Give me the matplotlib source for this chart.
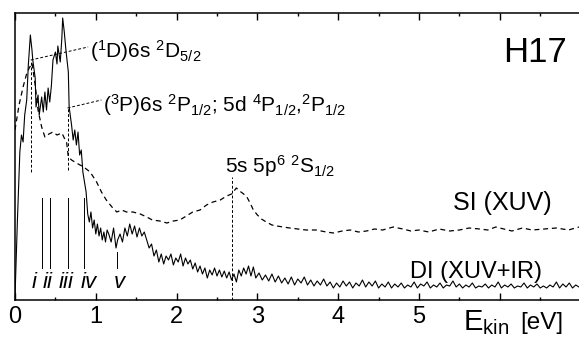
import matplotlib
matplotlib.use("Agg")
import matplotlib.pyplot as plt
from matplotlib.ticker import MultipleLocator

plt.rcParams['font.family'] = ['Liberation Sans', 'DejaVu Sans']
plt.rcParams['mathtext.fontset'] = 'custom'
plt.rcParams['mathtext.rm'] = 'Liberation Sans'
plt.rcParams['mathtext.it'] = 'Liberation Sans:italic'

# DI (XUV+IR) photoelectron spectrum (solid)
di_x = [0.00, 0.03, 0.06, 0.08, 0.10, 0.12, 0.145, 0.165, 0.19, 0.21, 0.22, 0.25, 0.26, 0.285,
        0.30, 0.33, 0.35, 0.37, 0.39, 0.41, 0.43, 0.45, 0.47, 0.50, 0.52, 0.53, 0.56, 0.58,
        0.59, 0.61, 0.63, 0.66, 0.67, 0.70, 0.72, 0.74, 0.76, 0.78, 0.80, 0.82, 0.84, 0.86,
        0.88, 0.90, 0.92, 0.94, 0.96, 0.98, 1.00, 1.02, 1.04, 1.06, 1.08, 1.10, 1.12, 1.14,
        1.16, 1.19, 1.22, 1.25, 1.27, 1.30, 1.33, 1.36, 1.39, 1.42, 1.45, 1.48, 1.51, 1.54,
        1.57, 1.60, 1.63, 1.66, 1.69, 1.72, 1.75, 1.78, 1.81, 1.84, 1.87, 1.90, 1.93, 1.96,
        1.99, 2.02, 2.05, 2.08, 2.11, 2.14, 2.17, 2.20, 2.23, 2.26, 2.29, 2.32, 2.35, 2.38,
        2.41, 2.44, 2.47, 2.50, 2.53, 2.56, 2.59, 2.62, 2.65, 2.68, 2.71, 2.74, 2.77, 2.80,
        2.83, 2.86, 2.89, 2.92, 2.95, 2.98,
        3.02, 3.06, 3.10, 3.14, 3.18, 3.22, 3.26, 3.30, 3.34, 3.38, 3.42, 3.46, 3.50, 3.54,
        3.58, 3.62, 3.66, 3.70, 3.74, 3.78, 3.82, 3.86, 3.90, 3.94, 3.98, 4.02, 4.06, 4.10,
        4.14, 4.18, 4.22, 4.26, 4.30, 4.34, 4.38, 4.42, 4.46, 4.50, 4.54, 4.58, 4.62, 4.66,
        4.70, 4.74, 4.78, 4.82, 4.86, 4.90, 4.94, 4.98, 5.02, 5.06, 5.10, 5.14, 5.18, 5.22,
        5.26, 5.30, 5.34, 5.38, 5.42, 5.46, 5.50, 5.54, 5.58, 5.62, 5.66, 5.70, 5.74, 5.78,
        5.82, 5.86, 5.90, 5.94, 5.98, 6.02, 6.06, 6.10, 6.14, 6.18, 6.22, 6.26, 6.30, 6.34,
        6.38, 6.42, 6.46, 6.50, 6.54, 6.58, 6.62, 6.66, 6.70, 6.74, 6.78, 6.82, 6.86, 6.90,
        6.94, 6.98]
di_y = [3, 80, 148, 165, 158, 185, 200, 235, 265, 250, 240, 222, 193, 205,
        185, 203, 188, 208, 190, 212, 198, 214, 240, 248, 236, 254, 238, 262,
        282, 268, 250, 228, 193, 175, 160, 170, 155, 168, 145, 150, 128, 118,
        108, 86, 78, 88, 72, 80, 66, 76, 64, 72, 60, 68, 58, 70,
        66, 58, 72, 52, 60, 66, 58, 72, 64, 76, 66, 74, 63, 72,
        64, 68, 60, 52, 56, 44, 50, 38, 46, 36, 44, 40, 46, 35,
        42, 38, 46, 34, 42, 36, 40, 31, 37, 28, 34, 26, 32, 22,
        30, 25, 32, 24, 30, 23, 29, 22, 28, 20, 26, 18, 30, 24,
        32, 26, 34, 24, 33, 22,
        27, 20, 25, 19, 26, 18, 24, 17, 22, 16, 23, 15, 21, 17,
        23, 15, 20, 14, 19, 15, 21, 14, 18, 12, 17, 13, 19, 14,
        18, 12, 17, 14, 20, 13, 18, 14, 19, 12, 16, 13, 18, 12,
        16, 13, 17, 12, 15, 13, 18, 12, 16, 14, 18, 12, 15, 13,
        17, 12, 15, 14, 19, 13, 16, 12, 15, 13, 17, 12, 14, 13,
        16, 12, 15, 13, 18, 12, 15, 13, 16, 12, 14, 13, 17, 12,
        15, 13, 16, 12, 14, 12, 15, 13, 18, 12, 16, 13, 17, 12,
        15, 13]

# SI (XUV) spectrum (dashed)
si_x = [0.00, 0.05, 0.10, 0.15, 0.21, 0.25, 0.285, 0.33, 0.37, 0.42, 0.47, 0.52, 0.58, 0.64,
        0.66, 0.70, 0.76, 0.85, 0.93, 1.01, 1.07, 1.13, 1.20, 1.26, 1.32, 1.38, 1.46, 1.55,
        1.63, 1.70, 1.79, 1.88, 1.96, 2.04, 2.12, 2.20, 2.29, 2.37, 2.45, 2.54, 2.62, 2.68,
        2.74, 2.78, 2.83, 2.87, 2.91, 2.95, 3.00, 3.05, 3.11, 3.18, 3.24, 3.32, 3.40, 3.50,
        3.60, 3.73, 3.85, 3.94, 4.05, 4.15, 4.25, 4.35, 4.45, 4.55, 4.68, 4.80, 4.90, 5.00,
        5.12, 5.25, 5.38, 5.50, 5.62, 5.75, 5.85, 5.95, 6.05, 6.15, 6.28, 6.40, 6.55, 6.70,
        6.85, 6.98]
si_y = [170, 195, 213, 228, 237, 215, 190, 173, 163, 166, 168, 165, 167, 157,
        143, 140, 137, 133, 128, 118, 108, 100, 93, 88, 90, 88, 88, 86,
        83, 80, 79, 77, 79, 80, 84, 88, 90, 95, 98, 100, 104, 106,
        112, 109, 106, 103, 97, 90, 85, 81, 78, 75, 74, 73, 72, 71,
        70, 70, 68, 67, 69, 70, 68, 69, 71, 70, 73, 71, 69, 70,
        68, 71, 69, 70, 72, 71, 70, 73, 71, 69, 72, 70, 71, 72,
        70, 73]

# Level markers i - v
lvl_x = [0.33, 0.433, 0.652, 0.854, 1.26]
lvl_top = [102, 102, 102, 102, 48]
lvl_lab = ['i', 'ii', 'iii', 'iv', 'v']
lvl_lab_x = [0.24, 0.41, 0.63, 0.91, 1.29]

xtick_vals = [0, 1, 2, 3, 4, 5, 6, 7]
xtick_labels = ['0', '1', '2', '3', '4', '5', '', '']

fig = plt.figure(figsize=(5.79, 3.37), dpi=100)
ax = fig.add_axes([15/579, 37/337, 565.6/579, 287/337])
ax.set_xlim(0, 7)
ax.set_ylim(0, 287)

ax.plot(di_x, di_y, color='black', lw=0.8)
ax.plot(si_x, si_y, color='black', lw=0.9, dashes=(4, 3))

for x, top in zip(lvl_x, lvl_top):
    ax.plot([x, x], [32, top], color='black', lw=0.7)
for lx, lab in zip(lvl_lab_x, lvl_lab):
    ax.text(lx, 12, lab, ha='center', va='baseline', fontsize=16, style='italic')

dkw = dict(color='black', lw=0.7, dashes=(3, 2))
# (1D)6s 2D5/2
ax.plot([0.195, 0.195], [128, 240], **dkw)
ax.plot([0.195, 0.905], [240, 253], **dkw)
ax.text(0.93, 242, r'($^1$D)6s $^2$D$_{5/2}$', fontsize=15, va='baseline', ha='left')
# (3P)6s 2P1/2 ...
ax.plot([0.65, 0.65], [130, 192], **dkw)
ax.plot([0.65, 1.07], [192, 200], **dkw)
ax.text(1.09, 188, r'($^3$P)6s $^2$P$_{1/2}$; 5d $^4$P$_{1/2}$,$^2$P$_{1/2}$',
        fontsize=15, va='baseline', ha='left')
# 5s 5p6 2S1/2
ax.plot([2.69, 2.69], [0, 123], **dkw)
ax.text(2.60, 127, r'5s 5p$^6$ $^2$S$_{1/2}$', fontsize=15, va='baseline', ha='left')

ax.text(5.42, 90, 'SI (XUV)', fontsize=18, va='baseline', ha='left')
ax.text(4.89, 22, 'DI (XUV+IR)', fontsize=17, va='baseline', ha='left')
ax.text(6.04, 238, 'H17', fontsize=25, va='baseline', ha='left')

ax.set_xticks(xtick_vals)
ax.set_xticklabels(xtick_labels)
ax.xaxis.set_minor_locator(MultipleLocator(0.5))
ax.tick_params(axis='x', which='major', direction='in', length=5, width=1,
               top=True, labelsize=17, pad=4)
ax.tick_params(axis='x', which='minor', direction='in', length=2.5, width=1, top=True)
ax.set_yticks([])
for s in ['left', 'bottom', 'top']:
    ax.spines[s].set_linewidth(1.1)
ax.spines['right'].set_visible(False)

fig.text(463/579, 1 - 330/337, r'E$_{\rm kin}$', fontsize=21, ha='left', va='baseline')
fig.text(520/579, 1 - 329/337, '[eV]', fontsize=17.5, ha='left', va='baseline')

fig.savefig('out.png', dpi=100)
